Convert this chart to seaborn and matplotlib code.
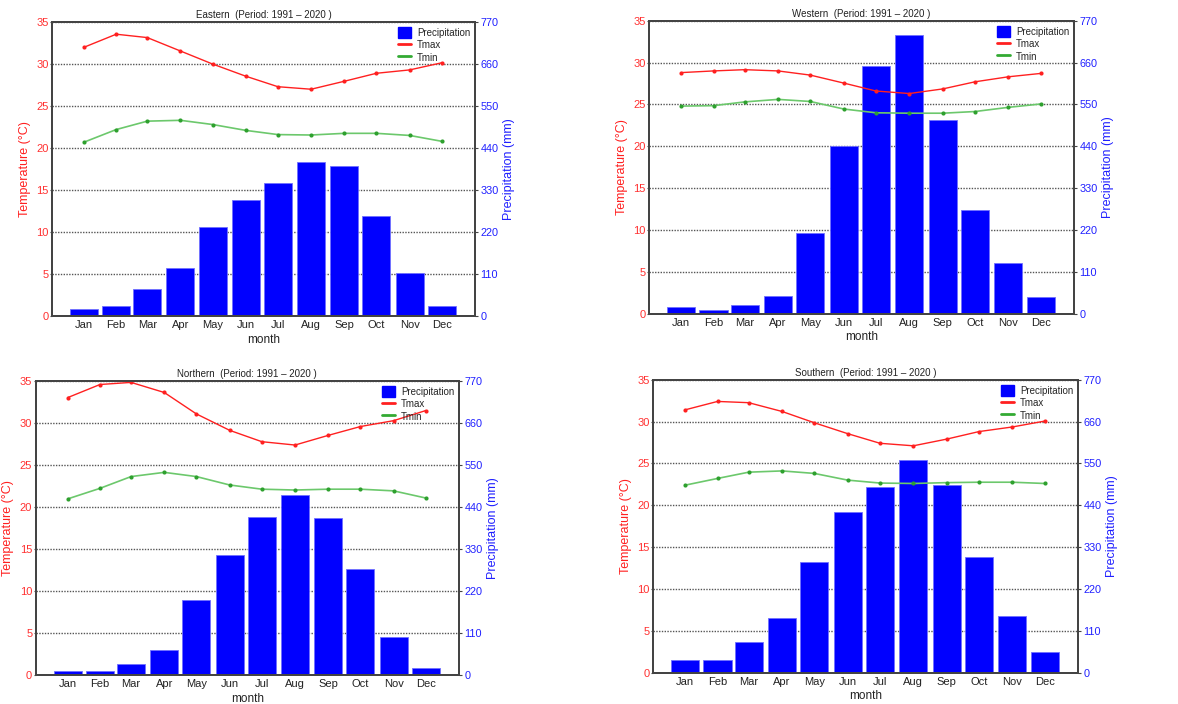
import numpy as np
import matplotlib
matplotlib.use("Agg")
import matplotlib.pyplot as plt
import seaborn as sns
from matplotlib.patches import Patch
from matplotlib.lines import Line2D

# mid-month day of year
days = [15, 45, 74, 105, 135, 166, 196, 227, 258, 288, 319, 349]
months = ["Jan", "Feb", "Mar", "Apr", "May", "Jun",
          "Jul", "Aug", "Sep", "Oct", "Nov", "Dec"]

eastern_tmax = [32.0, 33.55, 33.15, 31.55, 30.0, 28.55, 27.3, 27.0, 27.95, 28.9, 29.3, 30.15]
eastern_tmin = [20.7, 22.2, 23.2, 23.3, 22.8, 22.1, 21.6, 21.55, 21.75, 21.75, 21.5, 20.8]
eastern_prcp = [19, 25, 72, 125, 232, 303, 348, 404, 393, 263, 113, 27]

western_tmax = [28.8, 29.0, 29.15, 29.0, 28.5, 27.55, 26.6, 26.3, 26.85, 27.7, 28.3, 28.7]
western_tmin = [24.8, 24.85, 25.3, 25.6, 25.35, 24.45, 24.0, 23.95, 23.95, 24.15, 24.65, 25.05]
western_prcp = [18, 11, 22, 46, 211, 440, 652, 733, 508, 273, 132, 45]

northern_tmax = [33.0, 34.55, 34.8, 33.6, 31.05, 29.1, 27.75, 27.35, 28.5, 29.55, 30.25, 31.45]
northern_tmin = [20.95, 22.2, 23.6, 24.1, 23.6, 22.6, 22.1, 22.0, 22.1, 22.1, 21.9, 21.05]
northern_prcp = [10.5, 9.5, 29.5, 64.5, 196, 315, 413, 472, 410, 277, 99, 17.5]

southern_tmax = [31.4, 32.4, 32.25, 31.2, 29.85, 28.55, 27.4, 27.1, 27.9, 28.8, 29.35, 30.05]
southern_tmin = [22.4, 23.2, 23.95, 24.1, 23.8, 23.0, 22.65, 22.6, 22.7, 22.75, 22.75, 22.6]
southern_prcp = [34, 34, 80, 144, 292, 421, 489, 560, 493, 303, 150, 54]

regions = [
    ("Eastern", eastern_tmax, eastern_tmin, eastern_prcp, [0.0441, 0.5511, 0.3591, 0.4176]),
    ("Western", western_tmax, western_tmin, western_prcp, [0.5509, 0.5544, 0.3608, 0.4162]),
    ("Northern", northern_tmax, northern_tmin, northern_prcp, [0.0303, 0.0412, 0.3593, 0.4180]),
    ("Southern", southern_tmax, southern_tmin, southern_prcp, [0.5543, 0.0445, 0.3608, 0.4162]),
]

sns.set_style("white")
plt.rcParams["font.family"] = ["Liberation Sans", "DejaVu Sans"]

spine_color = "#444444"
green_line = "#6cc86c"
green_dot = "#2ea02e"


def draw_panel(fig, name, tmax, tmin, prcp, rect):
    ax = fig.add_axes(rect)
    ax2 = ax.twinx()

    sns.barplot(x=days, y=prcp, native_scale=True, width=0.9, color="#0000ff",
                saturation=1, edgecolor="#7070ff", linewidth=0.6, ax=ax2)

    sns.lineplot(x=days, y=tmax, ax=ax, color="#ff2020", lw=1.0,
                 marker="o", markersize=3.0, markeredgewidth=0)
    sns.lineplot(x=days, y=tmin, ax=ax, color=green_line, lw=1.2,
                 marker="o", markersize=3.0, markeredgewidth=0,
                 markerfacecolor=green_dot)

    ax.set_zorder(ax2.get_zorder() + 1)
    ax.patch.set_visible(False)

    ax.set_xlim(-15, 380)
    ax.set_ylim(0, 35)
    ax.set_yticks(np.arange(0, 36, 5))
    ax2.set_ylim(0, 770)
    ax2.set_yticks(np.arange(0, 771, 110))
    ax2.set_xlim(-15, 380)
    ax.set_xticks(days)
    ax.set_xticklabels(months)

    ax2.yaxis.grid(True, linestyle=(0, (1, 1)), color="#555555", lw=1.0)
    ax2.xaxis.grid(False)
    ax.grid(False)
    ax2.set_axisbelow(True)

    ax.tick_params(axis="y", colors="#ff3030", labelsize=8, length=1.5,
                   direction="out", pad=1)
    ax.tick_params(axis="y", color=spine_color)
    ax.tick_params(axis="x", labelsize=8, length=2, direction="in",
                   color=spine_color, labelcolor="#222222", pad=3)
    ax2.tick_params(axis="y", labelcolor="#2020ff", labelsize=7.8, length=2,
                    color=spine_color, direction="out", pad=2)

    ax.set_xlabel("month", fontsize=8.5, labelpad=2.5, color="#222222")
    ax.set_ylabel("Temperature (°C)", fontsize=9, color="#ff2020", labelpad=4)
    ax2.set_ylabel("Precipitation (mm)", fontsize=9, color="#2020ff", labelpad=3)
    ax.set_title(f"{name}  (Period: 1991 – 2020 )", fontsize=7, pad=3,
                 color="#222222")

    for a in (ax, ax2):
        for s in a.spines.values():
            s.set_color(spine_color)
            s.set_linewidth(1.4)

    handles = [
        Patch(facecolor="#0000ff", edgecolor="#0000ff", label="Precipitation"),
        Line2D([0], [0], color="#ff2020", lw=2, label="Tmax"),
        Line2D([0], [0], color="#33aa33", lw=2, label="Tmin"),
    ]
    ax.legend(handles=handles, loc="upper right", bbox_to_anchor=(1.0, 1.0),
              frameon=False, fontsize=7, handlelength=1.3, handleheight=1.45,
              labelspacing=0.1, handletextpad=0.6, borderaxespad=0.1)


fig = plt.figure(figsize=(11.78, 7.04), dpi=100)
for name, tmax, tmin, prcp, rect in regions:
    draw_panel(fig, name, tmax, tmin, prcp, rect)

fig.savefig("out.png", dpi=100, facecolor="white")
